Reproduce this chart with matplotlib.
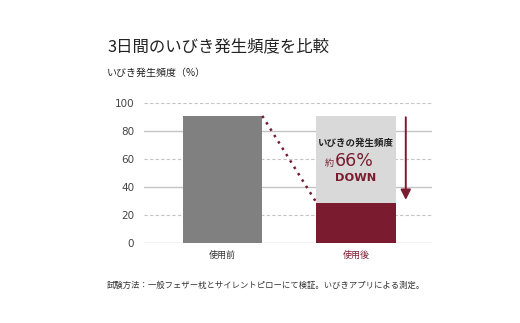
import matplotlib
matplotlib.use("Agg")
import matplotlib.pyplot as plt

plt.rcParams['font.family'] = ['Noto Sans CJK JP', 'DejaVu Sans']

categories = ["使用前", "使用後"]
before_value = 91
after_value = 29
yticks = [0, 20, 40, 60, 80, 100]
title = "3日間のいびき発生頻度を比較"
ylabel = "いびき発生頻度（%）"
footer = "試験方法：一般フェザー枕とサイレントピローにて検証。いびきアプリによる測定。"

RED = "#7b1b2f"
GRAY = "#808080"
LIGHT = "#d9d9d9"
GRID = "#c4c4c4"

fig = plt.figure(figsize=(5.2, 3.23), dpi=100)
W, H = 520, 323
ax = fig.add_axes([144 / W, 1 - 243.3 / H, 288 / W, 140 / H])
ax.set_ylim(0, 100)
ax.set_xlim(-0.587, 1.566)

for v in yticks:
    if v in (0, 40, 80):
        ax.axhline(v, color=GRID, lw=1.0, zorder=0)
    else:
        ax.axhline(v, color=GRID, lw=0.8, ls=(0, (3, 2)), zorder=0)

bw = 0.595
ax.bar(0, before_value, width=bw, color=GRAY, zorder=2)
ax.bar(1, before_value, width=bw, color=LIGHT, zorder=2)
ax.bar(1, after_value, width=bw, color=RED, zorder=3)

# dotted connector
ax.plot([bw / 2, 1 - bw / 2], [before_value, after_value], color=RED,
        ls=(0, (1, 2)), lw=1.8, zorder=4, clip_on=False)

# down arrow
ax.annotate("", xy=(1.37, after_value), xytext=(1.37, before_value + 1),
            arrowprops=dict(arrowstyle="-|>,head_width=0.3,head_length=0.6",
                            color=RED, lw=1.4))

ax.text(1, 72, "いびきの発生頻度", ha="center", va="center", fontsize=6.8,
        fontweight="bold", color="#222222", zorder=5)
ax.text(0.835, 57, "約", ha="right", va="center", fontsize=6.5, color=RED,
        zorder=5)
ax.text(0.84, 58.5, "66%", ha="left", va="center", fontsize=12.5, color=RED,
        family="DejaVu Sans", zorder=5)
ax.text(0.995, 46.5, "DOWN", ha="center", va="center", fontsize=8.2,
        fontweight="bold", color=RED, family="DejaVu Sans", zorder=5)

ax.set_yticks(yticks)
ax.set_yticklabels([str(v) for v in yticks], family="DejaVu Sans",
                   fontsize=7.5, color="#444444")
ax.tick_params(axis="y", length=0, pad=7)
ax.set_xticks([0, 1])
ax.set_xticklabels(categories, fontsize=6.5)
ax.get_xticklabels()[0].set_color("#333333")
ax.get_xticklabels()[1].set_color(RED)
ax.tick_params(axis="x", length=0, pad=5)
for s in ax.spines.values():
    s.set_visible(False)

fig.text(107 / W, 1 - 47 / H, title, fontsize=11.8, color="#222222",
         ha="left", va="center")
fig.text(107 / W, 1 - 73 / H, ylabel, fontsize=7.2, color="#222222",
         ha="left", va="center")
fig.text(107 / W, 1 - 285 / H, footer, fontsize=6, color="#333333",
         ha="left", va="center")

fig.savefig("out.png", dpi=100, facecolor="white")
